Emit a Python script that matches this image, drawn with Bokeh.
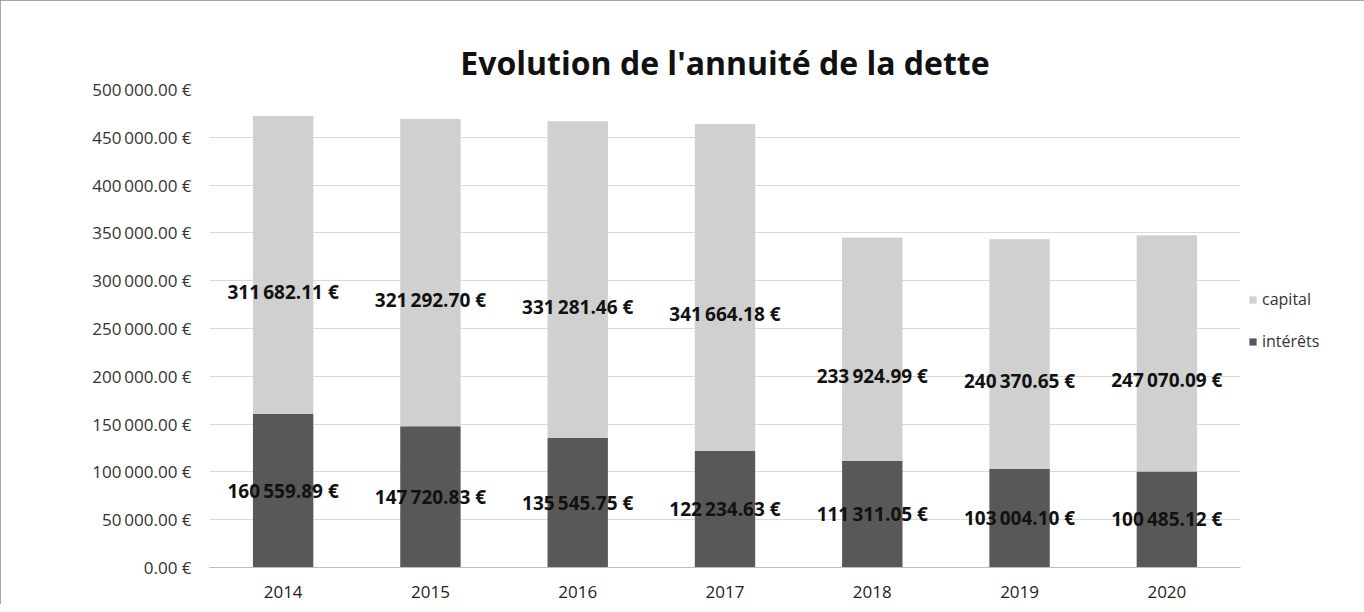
from bokeh.plotting import figure
from bokeh.models import ColumnDataSource, Legend, LegendItem, FixedTicker, CustomJSTickFormatter, LabelSet
from bokeh.core.properties import value
from bokeh.embed import file_html
from bokeh.resources import INLINE

years = ["2014", "2015", "2016", "2017", "2018", "2019", "2020"]
capital = [311682.11, 321292.70, 331281.46, 341664.18, 233924.99, 240370.65, 247070.09]
interets = [160559.89, 147720.83, 135545.75, 122234.63, 111311.05, 103004.10, 100485.12]
y_ticks = [0, 50000, 100000, 150000, 200000, 250000, 300000, 350000, 400000, 450000, 500000]


def fmt(v):
    s = f"{v:,.2f}".replace(",", "\u2009")
    return s + " €"


src = ColumnDataSource(dict(
    years=years, capital=capital, interets=interets,
    cap_mid=[i + c / 2 for c, i in zip(capital, interets)],
    int_mid=[i / 2 for i in interets],
    cap_lbl=[fmt(c) for c in capital],
    int_lbl=[fmt(i) for i in interets],
))

FONT = "Open Sans"
p = figure(frame_width=1031, frame_height=478, x_range=years, y_range=(0, 500000),
           output_backend="svg", toolbar_location=None,
           min_border_left=209, min_border_right=116, min_border_top=89, min_border_bottom=37)
p.styles = {"outline": "1px solid #8a8a8a", "outline-offset": "-1px"}
p.title.text = "Evolution de l'annuité de la dette"
p.title.align = "center"
p.title.text_font = FONT
p.title.text_font_size = "32px"
p.title.text_font_style = "bold"
p.title.text_color = "#111111"
p.title.offset = 0
p.title.standoff = 12

r = p.vbar_stack(["interets", "capital"], x="years", width=0.41, source=src,
                 color=["#585858", "#d0d0d0"], line_color=None)

p.outline_line_color = None
p.xgrid.grid_line_color = None
p.ygrid.grid_line_color = "#d9d9d9"
p.ygrid.grid_line_width = 1
p.ygrid.ticker = FixedTicker(ticks=y_ticks)

p.yaxis.ticker = FixedTicker(ticks=y_ticks)
p.yaxis.formatter = CustomJSTickFormatter(code="""
const s = tick.toFixed(2);
const parts = s.split('.');
const intp = parts[0].replace(/\\B(?=(\\d{3})+(?!\\d))/g, '\\u2009');
return intp + '.' + parts[1] + ' €';
""")
p.yaxis.axis_line_color = None
p.yaxis.major_tick_line_color = None
p.yaxis.minor_tick_line_color = None
p.yaxis.major_label_text_font = FONT
p.yaxis.major_label_text_font_size = "17px"
p.yaxis.major_label_text_color = "#333333"
p.yaxis.major_label_standoff = 12

p.xaxis.axis_line_color = "#bdbdbd"
p.xaxis.major_tick_line_color = None
p.xaxis.major_label_text_font = FONT
p.xaxis.major_label_text_font_size = "17px"
p.xaxis.major_label_text_color = "#222222"
p.xaxis.major_label_standoff = 12

cap_labels = LabelSet(x="years", y="cap_mid", text="cap_lbl", source=src,
                      text_align="center", text_baseline="middle", y_offset=-27,
                      text_font=value(FONT), text_font_size=value("19px"), text_font_style=value("bold"),
                      text_color="#111111")
int_labels = LabelSet(x="years", y="int_mid", text="int_lbl", source=src,
                      text_align="center", text_baseline="middle", y_offset=0,
                      text_font=value(FONT), text_font_size=value("19px"), text_font_style=value("bold"),
                      text_color="#111111")
p.add_layout(cap_labels)
p.add_layout(int_labels)

legend = Legend(items=[LegendItem(label="capital", renderers=[r[1]]),
                       LegendItem(label="intérêts", renderers=[r[0]])],
                location=(8, 215), border_line_color=None, background_fill_alpha=0,
                label_text_font=FONT, label_text_font_size="16px", label_text_color="#333333",
                glyph_width=9, glyph_height=9, spacing=20, label_standoff=5, padding=0, margin=0)
p.add_layout(legend, "right")

open("out.html", "w").write(file_html(p, INLINE))
